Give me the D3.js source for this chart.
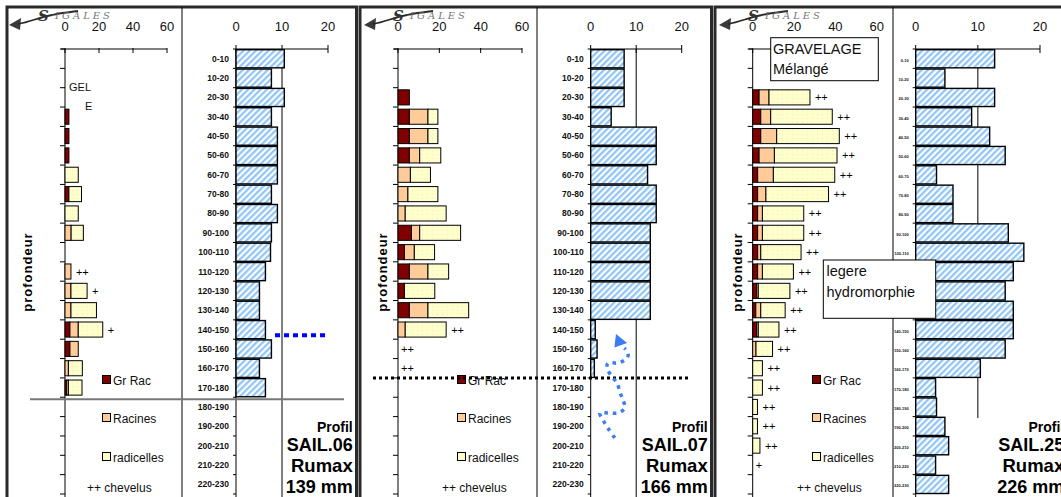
<!DOCTYPE html>
<html><head><meta charset="utf-8">
<script src="https://cdn.jsdelivr.net/npm/d3@7"></script>
<style>
body{margin:0;background:#fff;}
svg{display:block;font-family:"Liberation Sans",Arial,sans-serif;}
</style>
</head><body>
<svg id="c" width="1061" height="497"></svg>
<script>
// ---------- data ----------
const categories = ["0-10","10-20","20-30","30-40","40-50","50-60","60-70","70-80","80-90","90-100",
  "100-110","110-120","120-130","130-140","140-150","150-160","160-170","170-180","180-190",
  "190-200","200-210","210-220","220-230"];
const rootTicks = [0, 20, 40, 60];
const barTicks = [0, 10, 20];
const legendLabels = ["Gr Rac", "Racines", "radicelles"];
const chevelusLegend = "++ chevelus";

// Profil SAIL.06
const grRac06      = [0,0,0,2.3,2.3,2.3,0,2.3,0,0,0,0,0,0,2.9,2.9,0,1,0,0,0,0,0];
const racines06    = [0,0,0,0,0,0,0,0,0,3.6,0,3.5,3.5,3.5,4.9,4.9,2,1,0,0,0,0,0];
const radicelles06 = [0,0,0,0,0,0,7.8,7.4,7.8,7.2,0,0,9.5,15,14.4,0,8.2,8,0,0,0,0,0];
const chevelus06   = ["","","","","","","","","","","","++","+","","+","","","","","","","",""];
const rumax06      = [10.5,7.7,10.5,7.7,9,9,9,7.7,9,7.7,7.5,6.4,5.1,5.1,6.4,7.7,5.1,6.4,0,0,0,0,0];

// Profil SAIL.07
const grRac07      = [0,0,5.5,5.5,5.5,5.5,0,0,0,6.5,3.1,5.5,3.1,5.5,0,0,0,0,0,0,0,0,0];
const racines07    = [0,0,0,9,9,5,6,4.8,3.5,4,4.8,9,0,9,3.5,0,0,0,0,0,0,0,0];
const radicelles07 = [0,0,0,4.8,4.8,10.2,9.7,14.5,19.8,19.8,9.8,10,14.7,19.7,19.8,0,0,0,0,0,0,0,0];
const chevelus07   = ["","","","","","","","","","","","","","","++","++","++","","","","","",""];
const rumax07      = [7.35,7.35,7.35,4.5,14.4,14.4,12.5,14.4,14.4,13.1,13.1,13.1,13.1,13.1,1,1.4,0.8,0,0,0,0,0,0];

// Profil SAIL.25
const grRac25      = [0,0,3.1,3.9,3.9,3.1,2.4,2.4,2.4,2.4,2.4,2.4,1.9,1.5,1.9,0,0,0,0,0,0,0,0];
const racines25    = [0,0,4.8,4.8,7.7,7.4,7.6,4,2.3,2.3,1.5,2.3,0.8,2.4,0.8,1.6,0,0,0,0,0,0,0];
const radicelles25 = [0,0,19.8,29.8,30.3,30.3,29.7,30.3,20,20,19.5,15,15.3,11.8,10,8,4.7,4.7,2.3,2.3,3.5,0,0];
const chevelus25   = ["","","++","++","++","++","++","++","++","++","++","++","++","++","++","++","++","++","++","++","++","+",""];
const rumax25      = [12.7,4.7,12.7,9,11.9,14.4,3.35,6,6,14.9,17.4,15.7,14.4,15.7,15.7,14.4,10.4,3.2,3.35,4.7,5.3,3.2,5.3];

// annotation data (value, depth cm)
const arrow07 = [[5.3,201],[3.8,196],[2.7,191.7],[2.0,188.1],[4.0,188.1],[6.0,188.1],[7.5,185.5],[7.1,181.4],
  [6.4,177.3],[5.8,172.6],[4.7,169.5],[3.6,164.9],[3.8,162.3],[6.0,162.3],[8.0,159.7],[8.2,157.1],[7.4,154.6]];
const arrowHead07 = [[5.56,147.3],[5.2,154.3],[8.0,152.0]];

// ---------- layout ----------
const panels = [
  {id:"SAIL.06", rumax:"139 mm", gr:grRac06, rac:racines06, rad:radicelles06, chev:chevelus06, bars:rumax06,
   ox:0, frame:[7,356.5], div:182, lx:[65,167], rx:[236,328], catSize:8.5, gridEnd:497},
  {id:"SAIL.07", rumax:"166 mm", gr:grRac07, rac:racines07, rad:radicelles07, chev:chevelus07, bars:rumax07,
   ox:355, frame:[5,356.5], div:182, lx:[43,167], rx:[235.7,326.7], catSize:8.5, gridEnd:497},
  {id:"SAIL.25", rumax:"226 mm", gr:grRac25, rac:racines25, rad:radicelles25, chev:chevelus25, bars:rumax25,
   ox:710, frame:[5,360], div:183, lx:[42.7,166.7], rx:[205.7,330], catSize:4, gridEnd:418}
];
const TOP = 49, BOT = 494;
const colGr = "#800000", colRac = "#ffcc99", colRad = "#ffffcc";

const svg = d3.select("#c");
const defs = svg.append("defs");
const hatch = defs.append("pattern").attr("id","hatch").attr("patternUnits","userSpaceOnUse")
  .attr("width",4.4).attr("height",4.4).attr("patternTransform","rotate(45)");
hatch.append("rect").attr("width",4.4).attr("height",4.4).attr("fill","#ffffff");
hatch.append("rect").attr("width",2.3).attr("height",4.4).attr("fill","#93c6f4");
const dots = defs.append("pattern").attr("id","dots").attr("patternUnits","userSpaceOnUse")
  .attr("width",5).attr("height",4);
dots.append("rect").attr("width",5).attr("height",4).attr("fill",colRad);
dots.append("rect").attr("x",2).attr("y",2).attr("width",1).attr("height",1).attr("fill","#ecebc4");

svg.append("rect").attr("width",1061).attr("height",497).attr("fill","#fff");

const yBand = d3.scaleBand().domain(categories).range([TOP, BOT]).padding(0);
const yBar = d3.scaleBand().domain(categories).range([TOP, BOT]).paddingInner(0.22).paddingOuter(0.11);
const yDepth = d3.scaleLinear().domain([0, 230]).range([TOP, BOT]);
const boundaries = categories.map(c => yBand(c)).concat([BOT]);

panels.forEach((p, pi) => {
  const g = svg.append("g").attr("transform", `translate(${p.ox},0)`);
  const xL = d3.scaleLinear().domain([0,60]).range(p.lx);
  const xR = d3.scaleLinear().domain([0,20]).range(p.rx);

  // frame
  g.append("rect").attr("x",p.frame[0]).attr("y",7).attr("width",p.frame[1]-p.frame[0]).attr("height",520)
    .attr("fill","none").attr("stroke","#2a2a2a").attr("stroke-width",3);
  g.append("line").attr("x1",p.div).attr("x2",p.div).attr("y1",7).attr("y2",497)
    .attr("stroke","#000").attr("stroke-width",1);

  // ----- left chart: root counts -----
  g.append("line").attr("x1",xL(0)-4).attr("x2",xL(60)).attr("y1",TOP).attr("y2",TOP).attr("stroke","#000");
  rootTicks.forEach(t => {
    g.append("line").attr("x1",xL(t)).attr("x2",xL(t)).attr("y1",TOP-1).attr("y2",TOP+4).attr("stroke","#000");
    g.append("text").attr("x",xL(t)).attr("y",31).attr("text-anchor","middle")
      .attr("font-size",13).attr("fill","#111").text(t);
  });
  g.append("line").attr("x1",xL(0)).attr("x2",xL(0)).attr("y1",TOP).attr("y2",497).attr("stroke","#000");
  boundaries.forEach(b => g.append("line").attr("x1",xL(0)-5).attr("x2",xL(0)).attr("y1",b).attr("y2",b).attr("stroke","#000"));

  categories.forEach((c, i) => {
    const segs = [[0, p.gr[i], colGr], [p.gr[i], p.gr[i]+p.rac[i], colRac],
                  [p.gr[i]+p.rac[i], p.gr[i]+p.rac[i]+p.rad[i], "url(#dots)"]];
    segs.forEach(s => {
      if (s[1] - s[0] <= 0) return;
      g.append("rect").attr("x",xL(s[0])).attr("y",yBar(c)).attr("width",xL(s[1])-xL(s[0]))
        .attr("height",yBar.bandwidth()).attr("fill",s[2]).attr("stroke","#000").attr("stroke-width",1);
    });
    if (p.chev[i]) {
      const tot = p.gr[i]+p.rac[i]+p.rad[i];
      g.append("text").attr("x",xL(tot)+(tot>0?5:3)).attr("y",yBand(c)+yBand.bandwidth()/2+4)
        .attr("font-size",11).attr("fill","#000").text(p.chev[i]);
    }
  });

  // legend
  const legY = [380, 418, 457];
  [colGr, colRac, colRad].forEach((col, k) => {
    g.append("rect").attr("x",102.5).attr("y",legY[k]-4.5).attr("width",8).attr("height",8)
      .attr("fill",col).attr("stroke","#000").attr("stroke-width",1);
    g.append("text").attr("x",113).attr("y",legY[k]+4.5).attr("font-size",12).attr("fill","#111").text(legendLabels[k]);
  });
  g.append("text").attr("x",87).attr("y",492).attr("font-size",12).attr("fill","#111").text(chevelusLegend);

  g.append("text").attr("transform",`translate(32,272) rotate(-90)`).attr("text-anchor","middle")
    .attr("font-size",13).attr("font-weight","bold").attr("letter-spacing",1).text("profondeur");

  // ----- right chart: Rumax bars -----
  g.append("line").attr("x1",xR(10)).attr("x2",xR(10)).attr("y1",TOP).attr("y2",p.gridEnd).attr("stroke","#000");
  g.append("line").attr("x1",xR(0)).attr("x2",xR(20)).attr("y1",TOP).attr("y2",TOP).attr("stroke","#000");
  barTicks.forEach(t => {
    g.append("line").attr("x1",xR(t)).attr("x2",xR(t)).attr("y1",TOP-4).attr("y2",TOP+4).attr("stroke","#000");
    g.append("text").attr("x",xR(t)).attr("y",31).attr("text-anchor","middle")
      .attr("font-size",13).attr("fill","#111").text(t);
  });
  g.append("line").attr("x1",xR(0)).attr("x2",xR(0)).attr("y1",TOP).attr("y2",497).attr("stroke","#000");
  boundaries.forEach(b => g.append("line").attr("x1",xR(0)-3).attr("x2",xR(0)).attr("y1",b).attr("y2",b).attr("stroke","#000"));
  categories.forEach((c, i) => {
    g.append("text").attr("x",xR(0)-7).attr("y",yBand(c)+yBand.bandwidth()/2+3)
      .attr("text-anchor","end").attr("font-size",p.catSize).attr("font-weight","bold").attr("fill","#111").text(c);
    if (p.bars[i] > 0) {
      g.append("rect").attr("x",xR(0)).attr("y",yBand(c)+0.7).attr("width",xR(p.bars[i])-xR(0))
        .attr("height",yBand.bandwidth()-1.2).attr("fill","url(#hatch)").attr("stroke","#000").attr("stroke-width",1.4);
    }
  });

  // title block
  const tx = 352.7 + (pi===2 ? 1.5 : 0);
  [["Profil",432,14],[p.id,451,18],["Rumax",472,18.5],[p.rumax,493,18]].forEach(t => {
    g.append("text").attr("x",tx).attr("y",t[1]).attr("text-anchor","end").attr("font-size",t[2])
      .attr("font-weight","bold").attr("fill","#000").text(t[0]);
  });

  // logo
  const lg = g.append("g");
  lg.append("path").attr("d","M9,25 L21,18 L20,30 Z").attr("fill","#3a3a3a");
  lg.append("path").attr("d","M18,24 C30,22 40,17 52,15 C60,13 70,12 78,11").attr("fill","none")
    .attr("stroke","#2a2a2a").attr("stroke-width",1.8);
  lg.append("text").attr("x",38).attr("y",21).attr("font-family","'DejaVu Serif',serif").attr("font-style","italic")
    .attr("font-size",15).attr("font-weight","bold").attr("fill","#333").text("S");
  lg.append("text").attr("x",55).attr("y",19).attr("font-family","'DejaVu Serif',serif").attr("font-style","italic")
    .attr("font-size",10).attr("letter-spacing",3).attr("fill","#777").text("IGALES");

  // annotations
  if (pi === 0) {
    g.append("text").attr("x",69).attr("y",91).attr("font-size",11).attr("fill","#111").text("GEL");
    g.append("text").attr("x",85).attr("y",110).attr("font-size",11).attr("fill","#111").text("E");
    g.append("line").attr("x1",30).attr("x2",344).attr("y1",yDepth(181)).attr("y2",yDepth(181))
      .attr("stroke","#777").attr("stroke-width",2);
    g.append("line").attr("x1",275).attr("x2",326).attr("y1",yDepth(148)).attr("y2",yDepth(148))
      .attr("stroke","#0000ff").attr("stroke-width",4).attr("stroke-dasharray","5,4");
  }
  if (pi === 1) {
    g.append("line").attr("x1",18).attr("x2",333).attr("y1",yDepth(170)).attr("y2",yDepth(170))
      .attr("stroke","#000").attr("stroke-width",3).attr("stroke-dasharray","3,3");
    const line = d3.line().x(d => xR(d[0])).y(d => yDepth(d[1])).curve(d3.curveCatmullRom);
    g.append("path").attr("d",line(arrow07)).attr("fill","none").attr("stroke","#3d7df2")
      .attr("stroke-width",3.5).attr("stroke-dasharray","3.5,5");
    g.append("path").attr("d",d3.line().x(d => xR(d[0])).y(d => yDepth(d[1]))(arrowHead07)+"Z")
      .attr("fill","#3d7df2");
  }
  if (pi === 2) {
    const b1 = g.append("g");
    b1.append("rect").attr("x",60.7).attr("y",37.7).attr("width",107.6).attr("height",43)
      .attr("fill","#fff").attr("stroke","#000").attr("stroke-width",1);
    b1.append("text").attr("x",63).attr("y",54).attr("font-size",14.5).attr("fill","#111").text("GRAVELAGE");
    b1.append("text").attr("x",63).attr("y",74).attr("font-size",14.5).attr("fill","#111").text("Mélangé");
    const b2 = g.append("g");
    b2.append("rect").attr("x",113.3).attr("y",260).attr("width",112.4).attr("height",58.3)
      .attr("fill","#fff").attr("stroke","#000").attr("stroke-width",1);
    b2.append("text").attr("x",116.5).attr("y",276).attr("font-size",14.5).attr("fill","#111").text("legere");
    b2.append("text").attr("x",116.5).attr("y",297).attr("font-size",14.5).attr("fill","#111").text("hydromorphie");
  }
});
</script>
</body></html>
